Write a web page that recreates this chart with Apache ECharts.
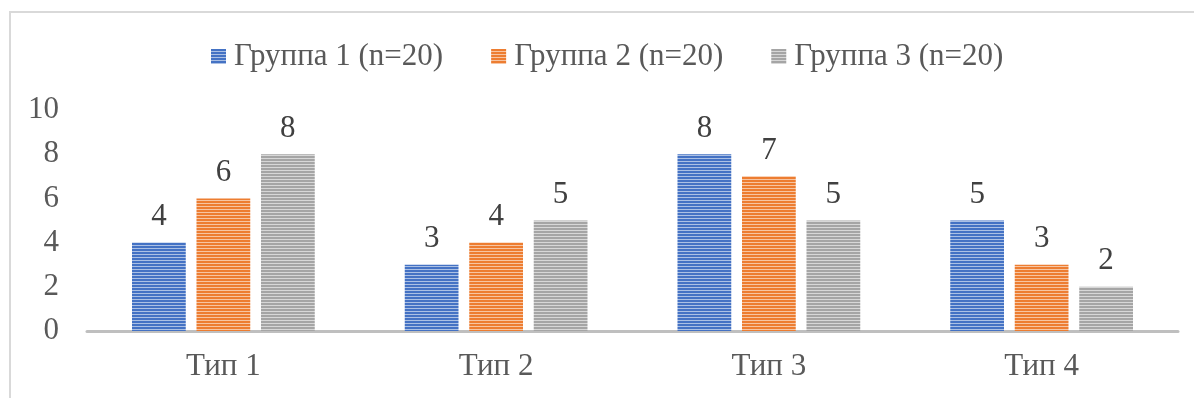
<!DOCTYPE html>
<html>
<head>
<meta charset="utf-8">
<script src="https://cdn.jsdelivr.net/npm/echarts@6/dist/echarts.min.js"></script>
<style>
  html, body { margin: 0; padding: 0; background: #fff; }
  #chart { width: 1194px; height: 398px; }
</style>
</head>
<body>
<div id="chart"></div>
<script>
// Categories and per-group counts
const categories = ['Тип 1', 'Тип 2', 'Тип 3', 'Тип 4'];
const seriesNames = ['Группа 1 (n=20)', 'Группа 2 (n=20)', 'Группа 3 (n=20)'];
const group1 = [4, 3, 8, 5];
const group2 = [6, 4, 7, 3];
const group3 = [8, 5, 5, 2];
const yTicks = [0, 2, 4, 6, 8, 10];

const baseColors = ['#4472C4', '#ED7D31', '#A5A5A5'];
const FONT = '"Liberation Serif", "Times New Roman", serif';
const FS = 31;

// Horizontal stripe fill: two solid rows, one pale row
function stripe(hex) {
  const c = document.createElement('canvas');
  c.width = 4; c.height = 3;
  const ctx = c.getContext('2d');
  ctx.fillStyle = hex;
  ctx.fillRect(0, 0, 4, 3);
  const r = parseInt(hex.slice(1, 3), 16), g = parseInt(hex.slice(3, 5), 16), b = parseInt(hex.slice(5, 7), 16);
  const mix = v => Math.round(v + (255 - v) * 0.55);
  ctx.fillStyle = `rgb(${mix(r)},${mix(g)},${mix(b)})`;
  ctx.fillRect(0, 2, 4, 1);
  return { image: c, repeat: 'repeat' };
}

const dataSets = [group1, group2, group3];
const chart = echarts.init(document.getElementById('chart'));

chart.setOption({
  animation: false,
  backgroundColor: '#ffffff',
  graphic: [{
    type: 'rect',
    shape: { x: 10, y: 12, width: 1300, height: 500 },
    style: { fill: 'none', stroke: '#d9d9d9', lineWidth: 2 },
    silent: true,
    z: -1
  }],
  legend: {
    top: 36,
    left: 206,
    itemWidth: 15,
    itemHeight: 15,
    itemGap: 48,
    textStyle: { fontFamily: FONT, fontSize: FS, color: '#595959', padding: [0, 0, 0, 3] },
    data: seriesNames.map((n, i) => ({ name: n, icon: 'rect', itemStyle: { color: stripe(baseColors[i]) } }))
  },
  grid: { left: 87, right: 16, top: 110, bottom: 67 },
  xAxis: {
    type: 'category',
    data: categories,
    axisLine: { lineStyle: { color: '#bfbfbf', width: 3 } },
    axisTick: { show: false },
    axisLabel: { fontFamily: FONT, fontSize: FS, color: '#595959', margin: 20 }
  },
  yAxis: {
    type: 'value',
    min: yTicks[0],
    max: yTicks[yTicks.length - 1],
    interval: 2,
    splitLine: { show: false },
    axisLine: { show: false },
    axisTick: { show: false },
    axisLabel: { fontFamily: FONT, fontSize: FS, color: '#595959', margin: 28 }
  },
  series: seriesNames.map((name, i) => ({
    name,
    type: 'bar',
    data: dataSets[i],
    barGap: '20%',
    barCategoryGap: '33%',
    itemStyle: { color: stripe(baseColors[i]) },
    label: {
      show: true,
      position: 'top',
      distance: 10,
      fontFamily: FONT,
      fontSize: FS,
      color: '#404040'
    }
  }))
});
</script>
</body>
</html>
